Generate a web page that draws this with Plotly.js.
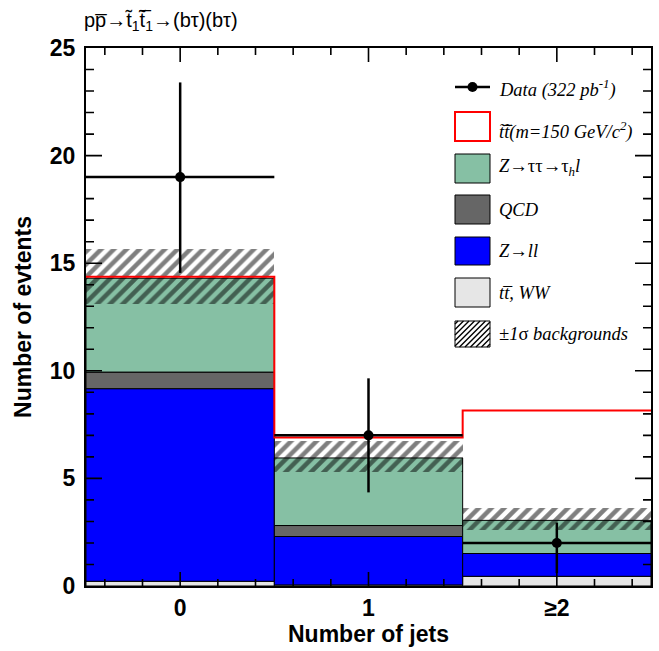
<!DOCTYPE html>
<html>
<head>
<meta charset="utf-8">
<script src="https://cdn.plot.ly/plotly-3.0.1.min.js"></script>
<style>html,body{margin:0;padding:0;background:#fff;}#plot{width:659px;height:651px;}</style>
</head>
<body>
<div id="plot"></div>
<script>
// ---- data ----
const bins = [0, 1, 2];
const tickLabels = ['0', '1', '\u22652'];
const ttWW = [0.22, 0.05, 0.45];     // t tbar, WW
const zll = [8.95, 2.25, 1.06];      // Z -> ll
const qcd = [0.77, 0.51, 0.0];       // QCD
const ztt = [4.36, 3.14, 1.54];      // Z -> tautau -> tau_h l
const signalTop = [14.37, 6.9, 8.16]; // stop signal outline level
const bkgLo = [13.1, 5.3, 2.62];     // -1 sigma backgrounds
const bkgHi = [15.65, 6.75, 3.64];   // +1 sigma backgrounds
const dataVals = [19, 7, 2];
const dataErrUp = [4.4, 2.65, 0.95];
const dataErrDown = [4.45, 2.65, 1.4];

// ---- layout geometry (pixels) ----
const W = 659, H = 651;
const M = {l: 86, r: 8, t: 48, b: 65};
const PW = W - M.l - M.r, PH = H - M.t - M.b;
const px = x => (x - M.l) / PW;
const py = y => (H - M.b - y) / PH;
const XR = [-0.5, 2.5], YR = [0, 25];
const xf = v => (v - XR[0]) / (XR[1] - XR[0]);
const yf = v => (v - YR[0]) / (YR[1] - YR[0]);

const colors = {ttWW: '#e6e6e6', zll: '#0000ff', qcd: '#666666', ztt: '#86c0a4', sig: '#ff0000'};

const base1 = ttWW.slice();
const base2 = base1.map((v, i) => v + zll[i]);
const base3 = base2.map((v, i) => v + qcd[i]);

function stackBar(y, base, color, name) {
  return {
    type: 'bar', x: bins, y: y, base: base, width: 1, name: name,
    marker: {color: color, line: {color: 'black', width: 1}},
    showlegend: false, hoverinfo: 'skip'
  };
}

const traces = [
  stackBar(ttWW, bins.map(() => 0), colors.ttWW, 'tt, WW'),
  stackBar(zll, base1, colors.zll, 'Z->ll'),
  stackBar(qcd, base2, colors.qcd, 'QCD'),
  stackBar(ztt, base3, colors.ztt, 'Z->tautau'),
  {
    type: 'bar', x: bins, y: bkgHi.map((v, i) => v - bkgLo[i]), base: bkgLo, width: 1,
    marker: {color: 'rgba(0,0,0,0)', line: {width: 0},
      pattern: {shape: '/', fgcolor: 'black', bgcolor: 'rgba(0,0,0,0)', size: 9, solidity: 0.5, fillmode: 'overlay'}},
    showlegend: false, hoverinfo: 'skip'
  },
  {
    type: 'scatter', mode: 'lines',
    x: bins.map(b => b - 0.5).concat([bins[bins.length - 1] + 0.5]),
    y: signalTop.concat([signalTop[signalTop.length - 1]]),
    line: {color: colors.sig, width: 2, shape: 'hv'},
    showlegend: false, hoverinfo: 'skip'
  },
  {
    type: 'scatter', mode: 'markers', x: bins, y: dataVals,
    marker: {color: 'black', size: 10},
    error_y: {type: 'data', symmetric: false, array: dataErrUp, arrayminus: dataErrDown, thickness: 2.5, width: 0, color: 'black'},
    error_x: {type: 'constant', value: 0.5, thickness: 2.5, width: 0, color: 'black'},
    showlegend: false, hoverinfo: 'skip'
  }
];

const shapes = [];
const annotations = [];

// ---- ROOT-style tick marks on all four sides ----
(function () {
  let d = '';
  for (let k = 1; k < 25; k++) {
    const len = (k % 5 === 0 ? 16 : 8) / PW, y = yf(k).toFixed(5);
    d += 'M0,' + y + 'L' + len.toFixed(5) + ',' + y;
    d += 'M1,' + y + 'L' + (1 - len).toFixed(5) + ',' + y;
  }
  for (let k = -2; k <= 12; k++) {
    const v = k * 0.2;
    if (v <= XR[0] || v >= XR[1]) continue;
    const len = (k % 5 === 0 ? 14 : 7) / PH, x = xf(v).toFixed(5);
    d += 'M' + x + ',0L' + x + ',' + len.toFixed(5);
    d += 'M' + x + ',1L' + x + ',' + (1 - len).toFixed(5);
  }
  shapes.push({type: 'path', xref: 'paper', yref: 'paper', path: d, line: {color: 'black', width: 1.6}});
})();

// ---- custom legend ----
const bx0 = 455, bx1 = 490, tx = 497;
const legFont = {family: 'Liberation Serif, Times New Roman, serif', size: 18.5, color: 'black', style: 'italic'};
function legText(text, ycen) {
  annotations.push({xref: 'paper', yref: 'paper', x: px(tx), y: py(ycen), xanchor: 'left', yanchor: 'middle',
    text: text, showarrow: false, font: legFont});
}
function legBox(y0, y1, fill, lc, lw) {
  shapes.push({type: 'rect', xref: 'paper', yref: 'paper', x0: px(bx0), x1: px(bx1), y0: py(y1), y1: py(y0),
    fillcolor: fill, line: {color: lc, width: lw}});
}
shapes.push({type: 'line', xref: 'paper', yref: 'paper', x0: px(bx0), x1: px(bx1), y0: py(87), y1: py(87), line: {color: 'black', width: 2.5}});
shapes.push({type: 'circle', xref: 'paper', yref: 'paper', x0: px(467.5), x1: px(477.5), y0: py(92), y1: py(82), fillcolor: 'black', line: {color: 'black', width: 0}});
legText('Data (322 pb<sup>-1</sup>)', 88);
legBox(112, 141, 'white', colors.sig, 2);
legText('t\u0303t\u0303\u0305(m=150 GeV/c<sup>2</sup>)', 130);
legBox(154, 183, colors.ztt, 'black', 1);
legText('Z\u2192<span style="font-style:normal">\u03c4\u03c4</span>\u2192<span style="font-style:normal">\u03c4</span><sub>h</sub>l', 167);
legBox(195, 224, colors.qcd, 'black', 1);
legText('QCD', 210);
legBox(237, 265, colors.zll, 'black', 1);
legText('Z\u2192ll', 251);
legBox(278, 307, colors.ttWW, 'black', 1);
legText('tt\u0305, WW', 293);
legBox(321, 347, 'white', 'black', 1);
legText('\u00b11<span style="font-style:normal">\u03c3</span> backgrounds', 334);
(function () {
  const x0 = bx0, x1 = bx1, y0 = 321, y1 = 347, s = 5.5;
  let d = '';
  for (let c = x0 + y0 + 3; c < x1 + y1; c += s) {
    const xa = Math.max(x0, c - y1), xb = Math.min(x1, c - y0);
    if (xb <= xa) continue;
    d += 'M' + px(xa).toFixed(5) + ',' + py(c - xa).toFixed(5) + 'L' + px(xb).toFixed(5) + ',' + py(c - xb).toFixed(5);
  }
  shapes.push({type: 'path', xref: 'paper', yref: 'paper', path: d, line: {color: 'black', width: 1.4}});
})();

annotations.push({xref: 'paper', yref: 'paper', x: px(82), y: py(21), xanchor: 'left', yanchor: 'middle', showarrow: false,
  text: 'pp\u0305\u2192t\u0303<sub>1</sub>t\u0303\u0305<sub>1</sub>\u2192(b\u03c4)(b\u03c4)',
  font: {family: 'Liberation Sans, Arial, sans-serif', size: 20, color: 'black'}});

const tickFont = {family: 'Liberation Sans, Arial, sans-serif', size: 23, color: 'black', weight: 'bold'};
const titleFont = {family: 'Liberation Sans, Arial, sans-serif', size: 23, color: 'black', weight: 'bold'};

const layout = {
  width: W, height: H,
  margin: M,
  paper_bgcolor: 'white', plot_bgcolor: 'white',
  barmode: 'overlay', bargap: 0,
  showlegend: false,
  xaxis: {
    range: XR, tickmode: 'array', tickvals: bins, ticktext: tickLabels,
    ticks: '', ticklabelstandoff: 0,
    showline: true, linecolor: 'black', linewidth: 2, mirror: true,
    showgrid: false, zeroline: false, tickfont: tickFont,
    title: {text: 'Number of jets', font: titleFont, standoff: 0}
  },
  yaxis: {
    range: YR, tickmode: 'linear', tick0: 0, dtick: 5,
    ticks: '', ticklabelstandoff: 4,
    showline: true, linecolor: 'black', linewidth: 2, mirror: true,
    showgrid: false, zeroline: false, tickfont: tickFont,
    title: {text: 'Number of evtents', font: titleFont, standoff: 12}
  },
  shapes: shapes,
  annotations: annotations
};

Plotly.newPlot('plot', traces, layout, {staticPlot: true, displayModeBar: false});
</script>
</body>
</html>
